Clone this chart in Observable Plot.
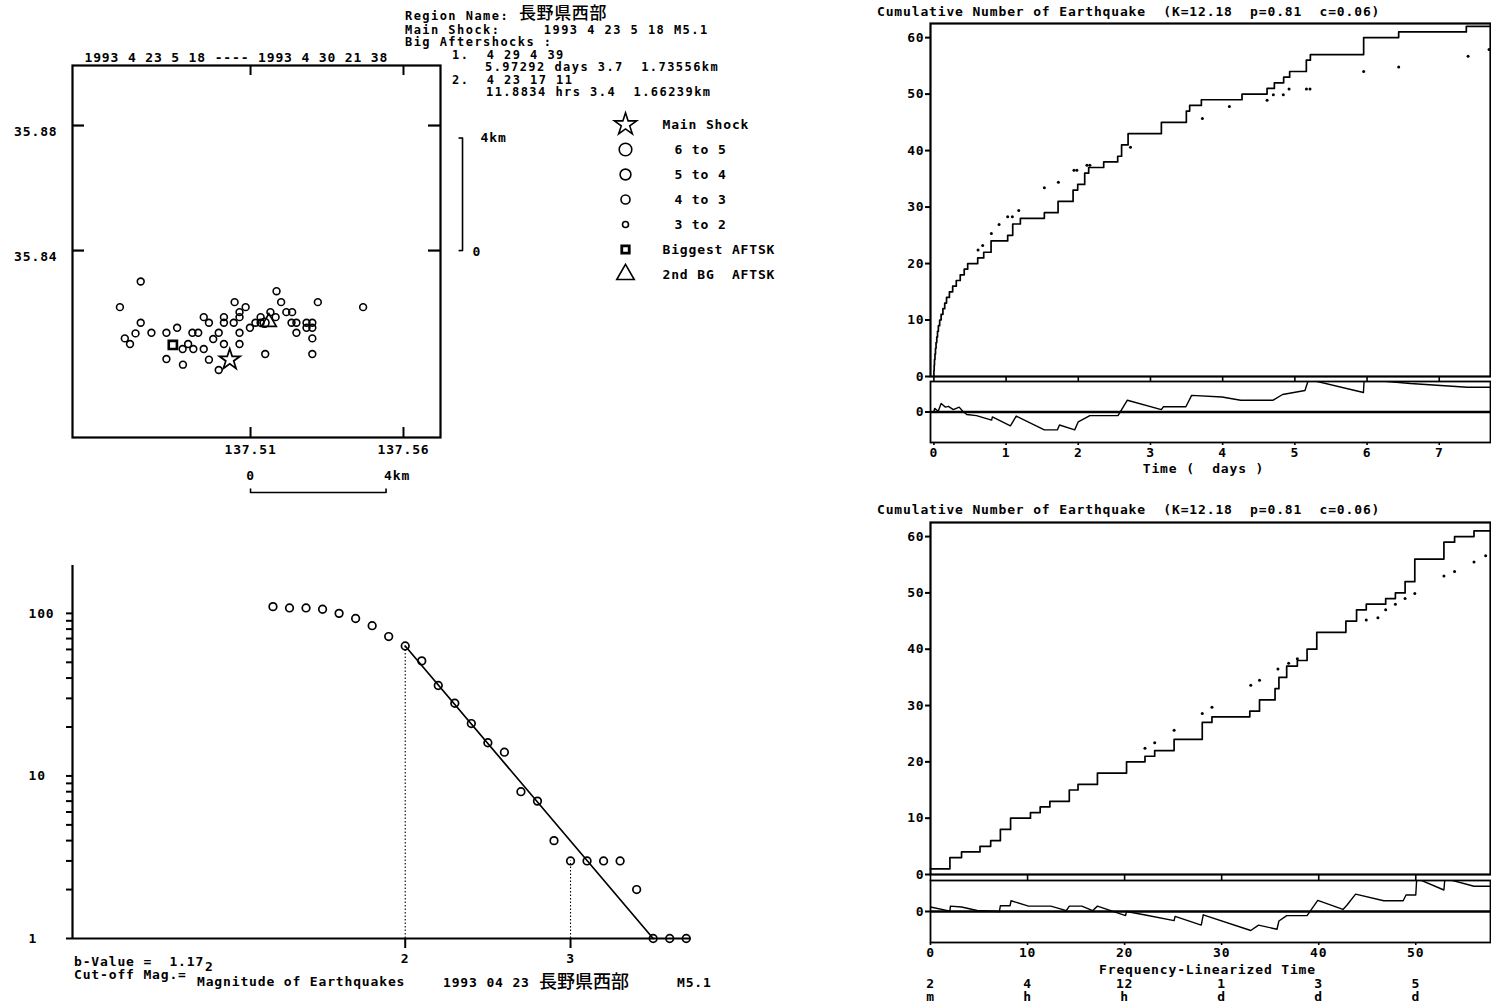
<!DOCTYPE html>
<html><head><meta charset="utf-8">
<script src="https://cdn.jsdelivr.net/npm/d3@7"></script>
<script src="https://cdn.jsdelivr.net/npm/@observablehq/plot@0.6"></script>
<style>
body{margin:0;background:#fff;}
#page{position:relative;width:1491px;height:1005px;overflow:hidden;background:#fff;}
.p{position:absolute;}
.t{position:absolute;white-space:pre;font-family:"DejaVu Sans Mono",monospace;font-weight:bold;font-size:13px;letter-spacing:0.85px;line-height:10px;color:#000;}
.h{font-size:12px;letter-spacing:1.45px;}
.cjk{font-family:"Noto Sans CJK JP";font-weight:500;font-size:18px;letter-spacing:0;line-height:14px;}
.cjk2{font-family:"Noto Sans CJK JP";font-weight:500;font-size:17px;letter-spacing:0.6px;line-height:12px;}
</style></head><body><div id="page"></div>
<script>
// ---------------- DATA ----------------
const regionName = "長野県西部";
const headerLines = ["Main Shock:     1993 4 23 5 18 M5.1", "Big Aftershocks :", "1.  4 29 4 39", "5.97292 days 3.7  1.73556km", "2.  4 23 17 11", "11.8834 hrs 3.4  1.66239km"];
const mapTitle = "1993 4 23 5 18 ---- 1993 4 30 21 38";
const lonTicks = [137.51, 137.56];
const latTicks = [35.84, 35.88];
const kmScaleLat = [35.84, 35.876];     // 0 .. 4 km (vertical bar)
const kmScaleLon = [137.51, 137.5543];  // 0 .. 4 km (horizontal bar)
const scaleBarLon = 137.5793, scaleHookLon = 137.5780;
const scaleBarLat = 35.7626, scaleHookLat = 35.7639;
const mapLon = [137.4741,137.4673,137.4741,137.4689,137.4706,137.4724,137.4776,137.4825,137.4860,137.4896,137.4878,137.4913,137.4825,137.4879,137.4910,137.4929,137.4947,137.4964,137.4947,137.4964,137.4978,137.4996,137.4996,137.5013,137.5013,137.5013,137.5048,137.5045,137.5064,137.5064,137.5064,137.5064,137.5084,137.5098,137.5116,137.5133,137.5133,137.5146,137.5148,137.5165,137.5182,137.5185,137.5200,137.5217,137.5236,137.5234,137.5250,137.5250,137.5283,137.5283,137.5302,137.5302,137.5302,137.5302,137.5320,137.5468];
const mapLat = [35.8301,35.8219,35.8169,35.8119,35.8101,35.8135,35.8137,35.8137,35.8153,35.8101,35.8085,35.8085,35.8053,35.8035,35.8137,35.8137,35.8187,35.8169,35.8085,35.8051,35.8117,35.8137,35.8018,35.8187,35.8169,35.8101,35.8235,35.8169,35.8203,35.8187,35.8137,35.8101,35.8219,35.8153,35.8169,35.8187,35.8169,35.8169,35.8069,35.8203,35.8187,35.8270,35.8235,35.8203,35.8203,35.8169,35.8169,35.8137,35.8169,35.8153,35.8169,35.8153,35.8119,35.8069,35.8235,35.8219];
const mapClass = mapLon.map((d, i) => i === 37 ? "4 to 3" : "3 to 2");
const mainShock = {lon: 137.5032, lat: 35.8051};
const biggestAftershock = {lon: 137.4846, lat: 35.8098};
const secondAftershock = {lon: 137.5160, lat: 35.8171};
const legendLabels = ["Main Shock", "6 to 5", "5 to 4", "4 to 3", "3 to 2", "Biggest AFTSK", "2nd BG  AFTSK"];

// magnitude-frequency
const magnitudes = [1.2,1.3,1.4,1.5,1.6,1.7,1.8,1.9,2.0,2.1,2.2,2.3,2.4,2.5,2.6,2.7,2.8,2.9,3.0,3.1,3.2,3.3,3.4,3.5,3.6,3.7];
const cumCounts  = [110,108,108,106,100,93,84,72,63,51,36,28,21,16,14,8,7,4,3,3,3,3,2,1,1,1];
const fitMag = [2.0, 3.5], fitCount = [63, 1];
const cutMag = [2.0, 3.0], cutCount = [63, 3];
const magYTicks = [1,2,3,4,5,6,7,8,9,10,20,30,40,50,60,70,80,90,100];
const magXTicks = [2, 3];
const bValueText = "b-Value =  1.17", cutoffText = "Cut-off Mag.=", cutoffValue = "2";
const magAxisLabel = "Magnitude of Earthquakes";
const footer = ["1993 04 23", "長野県西部", "M5.1"];

// cumulative vs time (days)
const cumTitle = "Cumulative Number of Earthquake  (K=12.18  p=0.81  c=0.06)";
const eventDays = [0,0.000,0.004,0.008,0.015,0.022,0.030,0.040,0.050,0.062,0.080,0.100,0.125,0.150,0.175,0.215,0.260,0.310,0.365,0.420,0.468,0.607,0.690,0.792,1.022,1.092,1.198,1.530,1.720,1.928,1.992,2.089,2.144,2.352,2.546,2.600,2.690,3.151,3.497,3.543,3.705,4.268,4.615,4.716,4.845,4.928,5.159,5.215,5.953,6.438,7.375,7.710];
const eventCount = [0,1,2,3,4,5,6,7,8,9,10,11,12,13,14,15,16,17,18,19,20,21,22,24,25,27,28,29,31,33,34,36,37,38,39,41,43,45,47,48,49,50,51,52,53,54,56,57,60,61,62,62];
const modelDays  = [0.612,0.676,0.796,0.903,1.022,1.087,1.175,1.530,1.724,1.940,1.980,2.120,2.160,2.723,3.719,4.093,4.615,4.702,4.840,4.920,5.160,5.210,5.953,6.438,7.400,7.690];
const modelCount = [22.4,23.2,25.3,26.9,28.3,28.3,29.4,33.4,34.4,36.5,36.5,37.4,37.4,40.6,45.7,47.8,48.9,49.9,49.9,50.9,50.9,50.9,54.0,54.8,56.7,57.9];
const resDays = [0,0.01,0.06,0.10,0.16,0.20,0.27,0.35,0.40,0.455,0.59,0.80,0.81,1.06,1.14,1.53,1.71,1.74,1.95,2.00,2.16,2.55,2.68,3.15,3.18,3.49,3.57,3.99,4.25,4.70,4.83,5.14,5.19,5.95,5.96,6.60,7.39,7.71];
const resValue = [0,0.9,0.2,2.1,1.2,1.4,0.6,1.2,0.2,-0.6,-0.9,-2.0,-1.2,-3.4,-1.0,-4.4,-4.4,-3.2,-4.4,-2.4,-0.9,-0.9,2.9,0.6,1.3,1.3,4.1,3.7,2.9,2.9,4.3,5.3,8.0,4.8,8.0,7.0,6.1,6.1];
const dayTicks = [0,1,2,3,4,5,6,7];
const countTicks = [0,10,20,30,40,50,60];
const timeLabel = "Time (  days )";

// cumulative vs frequency-linearized time
const tauSteps  = [0,2.0,3.2,5.1,6.2,7.2,8.25,10.3,11.3,12.3,14.3,15.2,17.2,20.2,22.1,23.1,25.1,28.0,29.0,32.9,33.9,35.5,35.9,36.7,37.8,38.8,39.8,42.8,43.9,44.9,46.9,47.9,48.9,49.9,52.9,54.0,56.0,57.7];
const tauCount  = [1,3,4,5,6,8,10,11,12,13,15,16,18,20,21,22,24,27,28,29,31,33,35,37,38,40,43,45,47,48,49,50,52,56,59,60,61,61];
const tauModel  = [22.1,23.1,25.1,28.0,29.0,33.0,33.9,35.8,36.9,37.8,44.9,46.1,46.9,47.9,48.9,49.9,52.9,54.0,56.0,57.2];
const tauModelN = [22.4,23.4,25.6,28.6,29.7,33.6,34.5,36.5,37.5,38.3,45.2,45.6,47.0,48.0,49.0,49.9,53.0,53.8,55.5,56.6];
const tauRes    = [0,2.0,2.05,3.2,4.8,7.1,7.2,8.2,8.3,10.1,12.4,14.0,14.3,15.6,16.7,17.2,20.1,20.2,22.0,25.1,25.2,27.9,28.1,33.0,33.8,35.7,35.9,36.7,38.8,39.9,42.5,42.9,43.8,46.7,48.7,49.0,50.0,50.1,52.9,53.0,56.0,57.7];
const tauResVal = [1.1,0.1,1.3,1.1,0.25,0.0,1.4,1.4,2.6,1.3,1.3,0.2,1.3,1.3,0.2,1.3,-1.0,0.0,-0.8,-2.2,-1.2,-3.3,-0.8,-4.6,-3.3,-4.3,-2.3,-1.0,-1.0,2.7,0.5,1.5,4.2,2.6,2.6,4.0,4.0,8.0,5.2,8.0,6.1,6.1];
const tauTicks = [0,10,20,30,40,50];
const tauTimeNum  = ["2","4","12","1","3","5"];
const tauTimeUnit = ["m","h","h","d","d","d"];
const tauLabel = "Frequency-Linearized Time";

// ---------------- HELPERS ----------------
const page = document.getElementById("page");
function place(el, left, top) { el.classList.add("p"); el.style.left = left + "px"; el.style.top = top + "px"; page.appendChild(el); }
function txt(s, x, y, cls) {
  const d = document.createElement("div");
  d.className = "t" + (cls ? " " + cls : "");
  d.textContent = s;
  d.style.left = x + "px";
  d.style.top = (y - (cls === "cjk" ? 8 : cls === "cjk2" ? 6 : 5)) + "px";
  page.appendChild(d);
}
const st = {fontFamily: "DejaVu Sans Mono", fontSize: "13px", fontWeight: "bold", letterSpacing: "0.85px", overflow: "visible", background: "none", color: "black"};

// ---------------- MAP ----------------
const mapEvents = mapLon.map((lon, i) => ({lon, lat: mapLat[i], cls: mapClass[i]}));
const mapXd = [137.4518, 137.5721], mapYd = [35.7802, 35.8992];
const mapW = 520, mapH = 500, mL = 72, mR = 80, mT = 65, mB = 63;
const mIW = mapW - mL - mR, mIH = mapH - mT - mB;
place(Plot.plot({
  width: mapW, height: mapH, marginLeft: mL, marginRight: mR, marginTop: mT, marginBottom: mB,
  style: st,
  x: {domain: mapXd, axis: null}, y: {domain: mapYd, axis: null},
  marks: [
    Plot.frame({strokeWidth: 2.2}),
    Plot.tickX(lonTicks, {x: d => d, insetTop: mIH - 10, strokeWidth: 2}),
    Plot.tickX(lonTicks, {x: d => d, insetBottom: mIH - 10, strokeWidth: 2}),
    Plot.tickY(latTicks, {y: d => d, insetRight: mIW - 12, strokeWidth: 2.2}),
    Plot.tickY(latTicks, {y: d => d, insetLeft: mIW - 12, strokeWidth: 2.2}),
    Plot.text(latTicks, {y: d => d, frameAnchor: "left", lineAnchor: "middle", dx: -15, dy: 6, textAnchor: "end", text: d => d.toFixed(2)}),
    Plot.text(lonTicks, {x: d => d, frameAnchor: "bottom", lineAnchor: "middle", dy: 12, text: d => d.toFixed(2)}),
    Plot.text([mapTitle], {frameAnchor: "top-left", lineAnchor: "middle", textAnchor: "start", dx: 12, dy: -8, text: d => d}),
    // vertical scale bar (4 km)
    Plot.line(kmScaleLat, {x: () => scaleBarLon, y: d => d, strokeWidth: 1.6}),
    Plot.link(kmScaleLat, {x1: () => scaleHookLon, x2: () => scaleBarLon, y1: d => d, y2: d => d, strokeWidth: 1.6}),
    Plot.text([kmScaleLat[1]], {x: () => scaleBarLon, y: d => d, dx: 18, textAnchor: "start", text: () => "4km"}),
    Plot.text([kmScaleLat[0]], {x: () => scaleBarLon, y: d => d, dx: 10, dy: 1, textAnchor: "start", text: () => "0"}),
    // horizontal scale bar (4 km)
    Plot.line(kmScaleLon, {x: d => d, y: () => scaleBarLat, strokeWidth: 1.6}),
    Plot.link(kmScaleLon, {x1: d => d, x2: d => d, y1: () => scaleBarLat, y2: () => scaleHookLat, strokeWidth: 1.6}),
    Plot.text([kmScaleLon[0]], {x: d => d, y: () => scaleBarLat, dy: -17, text: () => "0"}),
    Plot.text([kmScaleLon[1]], {x: d => d, y: () => scaleBarLat, dy: -17, dx: -2, textAnchor: "start", text: () => "4km"}),
    // events
    Plot.dot(mapEvents.filter(d => d.cls === "3 to 2"), {x: "lon", y: "lat", r: 3.4, stroke: "black", strokeWidth: 1.6, fill: "none"}),
    Plot.dot(mapEvents.filter(d => d.cls === "4 to 3"), {x: "lon", y: "lat", r: 4.4, stroke: "black", strokeWidth: 1.6, fill: "none"}),
    Plot.dot([mainShock], {x: "lon", y: "lat", symbol: "star", r: 6.5, stroke: "black", strokeWidth: 1.7, fill: "white"}),
    Plot.dot([biggestAftershock], {x: "lon", y: "lat", symbol: "square", r: 4.6, stroke: "black", strokeWidth: 2.6, fill: "white"}),
    Plot.dot([secondAftershock], {x: "lon", y: "lat", symbol: "triangle", r: 5.5, stroke: "black", strokeWidth: 1.7, fill: "none"})
  ]
}), 0, 0);

// ---------------- LEGEND ----------------
const legendSym = {"Main Shock": ["star", 7], "6 to 5": ["circle", 6.3], "5 to 4": ["circle", 5.4], "4 to 3": ["circle", 4.5], "3 to 2": ["circle", 3], "Biggest AFTSK": ["square", 4.2], "2nd BG  AFTSK": ["triangle", 6.5]};
const legendRows = legendLabels.map(label => ({label}));
place(Plot.plot({
  width: 200, height: 200, margin: 0, style: st,
  x: {type: "point", domain: ["sym", "lab"], range: [25, 62], padding: 0, axis: null},
  y: {type: "point", domain: legendLabels, range: [24, 174], padding: 0, axis: null},
  marks: [
    ...legendRows.map(row => Plot.dot([row], {x: () => "sym", y: "label", symbol: legendSym[row.label][0], r: legendSym[row.label][1], stroke: "black", strokeWidth: row.label.startsWith("Biggest") ? 2.8 : 1.6, fill: "none"})),
    Plot.text(legendRows.filter(d => /to/.test(d.label)), {x: () => "lab", y: "label", text: "label", textAnchor: "start", dx: 12}),
    Plot.text(legendRows.filter(d => !/to/.test(d.label)), {x: () => "lab", y: "label", text: "label", textAnchor: "start"})
  ]
}), 600, 100);

// ---------------- MAGNITUDE-FREQUENCY ----------------
const magData = magnitudes.map((m, i) => ({m, n: cumCounts[i]}));
const fitData = fitMag.map((m, i) => ({m, n: fitCount[i]}));
const cutData = cutMag.map((m, i) => ({m, n: cutCount[i]}));
const magXd = [-0.0127, 3.73];
place(Plot.plot({
  width: 720, height: 440, marginLeft: 72, marginRight: 29.3, marginTop: 25, marginBottom: 42,
  style: st,
  x: {domain: magXd}, y: {type: "log", domain: [1, 197]},
  marks: [
    Plot.ruleX([magXd[0]], {strokeWidth: 2.2}),
    Plot.ruleY([1], {strokeWidth: 2.2}),
    Plot.axisY(magYTicks, {tickSize: 6, tickPadding: 38, textAnchor: "start", strokeWidth: 2, label: null, tickFormat: d => [1, 10, 100].includes(d) ? String(d) : ""}),
    Plot.axisX(magXTicks, {tickSize: 10, tickPadding: 5, strokeWidth: 2, label: null, tickFormat: d => String(d)}),
    Plot.ruleX(cutData, {x: "m", y1: () => 1, y2: "n", strokeWidth: 1.1, strokeDasharray: "1.5,2"}),
    Plot.line(fitData, {x: "m", y: "n", strokeWidth: 1.7}),
    Plot.dot(magData, {x: "m", y: "n", r: 3.8, stroke: "black", strokeWidth: 1.7, fill: "none"})
  ]
}), 0, 540);

// ---------------- CUMULATIVE vs DAYS ----------------
const cumTop = eventDays.map((t, i) => ({t, n: eventCount[i]}));
const modelTop = modelDays.map((t, i) => ({t, n: modelCount[i]}));
const resTop = resDays.map((t, i) => ({t, v: resValue[i]}));
const dayXd = [-0.047, 7.71];
place(Plot.plot({
  width: 631, height: 382, marginLeft: 70, marginRight: 1, marginTop: 23, marginBottom: 6, style: st,
  x: {domain: dayXd, axis: null}, y: {domain: [0, 62.5]},
  marks: [
    Plot.frame({strokeWidth: 2.2}),
    Plot.axisY(countTicks, {tickSize: 5, tickPadding: 1, strokeWidth: 2, label: null}),
    Plot.line(cumTop, {x: "t", y: "n", curve: "step-after", strokeWidth: 1.7}),
    Plot.dot(modelTop, {x: "t", y: "n", r: 1.5, fill: "black"})
  ]
}), 860, 0);
place(Plot.plot({
  width: 631, height: 100, marginLeft: 70, marginRight: 1, marginTop: 5, marginBottom: 34, style: st,
  x: {domain: dayXd}, y: {domain: [-7.5, 7.5]},
  marks: [
    Plot.frame({strokeWidth: 1.8}),
    Plot.ruleY([0], {strokeWidth: 2.4}),
    Plot.line(resTop, {x: "t", y: "v", clip: true, strokeWidth: 1.4}),
    Plot.axisX(dayTicks, {anchor: "top", tickSize: 5, strokeWidth: 1.6, label: null, tickFormat: () => ""}),
    Plot.axisX(dayTicks, {anchor: "bottom", tickSize: 3, tickPadding: 2, strokeWidth: 1.6, label: null}),
    Plot.axisY([0], {tickSize: 5, tickPadding: 1, strokeWidth: 2, label: null}),
    Plot.text([timeLabel], {frameAnchor: "bottom", lineAnchor: "middle", dy: 26, dx: -7, text: d => d})
  ]
}), 860, 376);

// ---------------- CUMULATIVE vs FREQUENCY-LINEARIZED TIME ----------------
const cumBot = tauSteps.map((t, i) => ({t, n: tauCount[i]}));
const modelBot = tauModel.map((t, i) => ({t, n: tauModelN[i]}));
const resBot = tauRes.map((t, i) => ({t, v: tauResVal[i]}));
const timeRow = tauTicks.map((t, i) => ({t, num: tauTimeNum[i], unit: tauTimeUnit[i]}));
const tauXd = [0, 57.7];
place(Plot.plot({
  width: 631, height: 380, marginLeft: 70, marginRight: 1, marginTop: 22, marginBottom: 6, style: st,
  x: {domain: tauXd, axis: null}, y: {domain: [0, 62.5]},
  marks: [
    Plot.frame({strokeWidth: 2.2}),
    Plot.axisY(countTicks, {tickSize: 5, tickPadding: 1, strokeWidth: 2, label: null}),
    Plot.line(cumBot, {x: "t", y: "n", curve: "step-after", strokeWidth: 1.7}),
    Plot.dot(modelBot, {x: "t", y: "n", r: 1.5, fill: "black"})
  ]
}), 860, 500);
place(Plot.plot({
  width: 631, height: 131, marginLeft: 70, marginRight: 1, marginTop: 6, marginBottom: 63, style: st,
  x: {domain: tauXd}, y: {domain: [-7.5, 7.5]},
  marks: [
    Plot.frame({strokeWidth: 1.8}),
    Plot.ruleY([0], {strokeWidth: 2.4}),
    Plot.line(resBot, {x: "t", y: "v", clip: true, strokeWidth: 1.4}),
    Plot.axisX(tauTicks, {anchor: "top", tickSize: 6, strokeWidth: 1.6, label: null, tickFormat: () => ""}),
    Plot.axisX(tauTicks, {anchor: "bottom", tickSize: 3, tickPadding: 2, strokeWidth: 1.6, label: null}),
    Plot.axisY([0], {tickSize: 5, tickPadding: 1, strokeWidth: 2, label: null}),
    Plot.text([tauLabel], {frameAnchor: "bottom", lineAnchor: "middle", dy: 27, dx: -3, text: d => d}),
    Plot.text(timeRow, {x: "t", frameAnchor: "bottom", lineAnchor: "middle", dy: 41, text: "num"}),
    Plot.text(timeRow, {x: "t", frameAnchor: "bottom", lineAnchor: "middle", dy: 54, text: "unit"})
  ]
}), 860, 874);

// ---------------- FREE TEXT ----------------
txt("Region Name:", 405, 16, "h");
txt(regionName, 519, 12, "cjk2");
const hdrPos = [[405, 29.5], [405, 42], [452, 54.5], [485, 67], [452, 79.5], [486, 92]];
headerLines.forEach((s, i) => txt(s, hdrPos[i][0], hdrPos[i][1], "h"));
txt(bValueText, 74, 962);
txt(cutoffText, 74, 975);
txt(cutoffValue, 205, 967);
txt(magAxisLabel, 197, 982);
txt(footer[0], 443, 983);
txt(footer[1], 539, 981, "cjk");
txt(footer[2], 677, 983);
txt(cumTitle, 877, 12);
txt(cumTitle, 877, 510);
</script></body></html>
